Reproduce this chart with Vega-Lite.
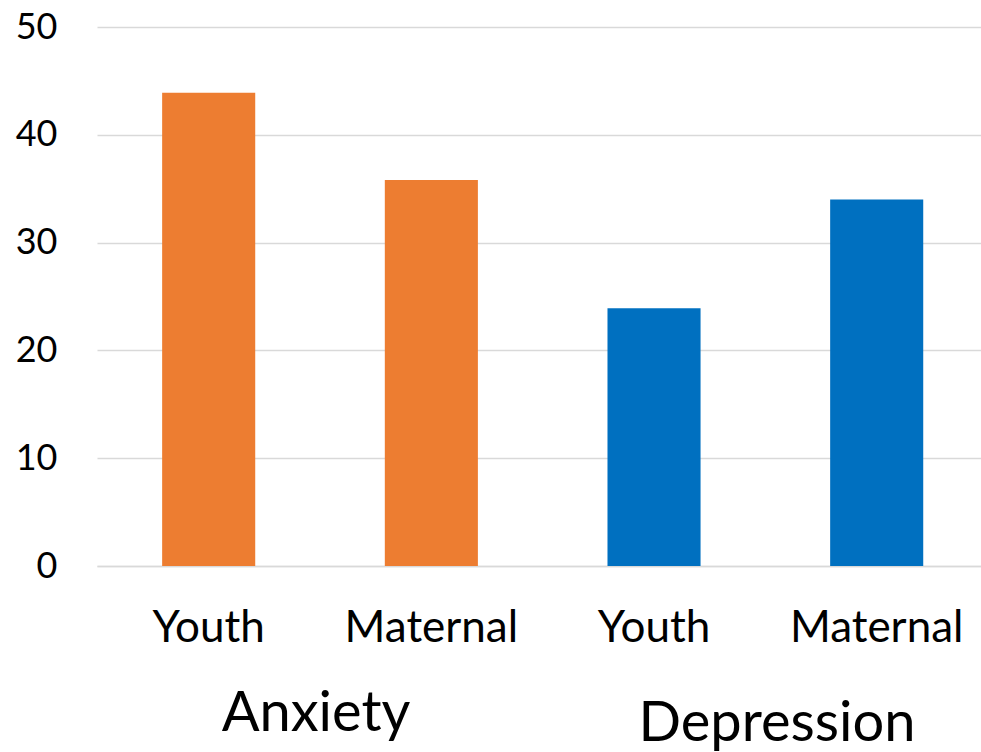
{
  "$schema": "https://vega.github.io/schema/vega-lite/v6.json",
  "width": 884,
  "height": 539,
  "autosize": "none",
  "padding": {"left": 97, "top": 27, "right": 0, "bottom": 186},
  "background": "white",
  "config": {"view": {"stroke": null}, "font": "Lato"},
  "data": {
    "values": [
      {"group": "Anxiety", "sub": "Youth", "key": "Anxiety-Youth", "value": 43.9},
      {"group": "Anxiety", "sub": "Maternal", "key": "Anxiety-Maternal", "value": 35.8},
      {"group": "Depression", "sub": "Youth", "key": "Depression-Youth", "value": 23.9},
      {"group": "Depression", "sub": "Maternal", "key": "Depression-Maternal", "value": 34.0}
    ]
  },
  "layer": [
    {
      "mark": {"type": "bar"},
      "encoding": {
        "x": {
          "field": "key", "type": "nominal", "sort": null,
          "scale": {"paddingInner": 0.582, "paddingOuter": 0.276, "align": 0.53},
          "axis": {"title": null, "labelExpr": "split(datum.label, '-')[1]", "labelAngle": 0, "labelFontSize": 44, "labelLimit": 0, "labelColor": "#000000", "ticks": false, "domainColor": "#d9d9d9", "domainWidth": 1.5, "labelPadding": 40}
        },
        "y": {
          "field": "value", "type": "quantitative",
          "scale": {"domain": [0, 50]},
          "axis": {"title": null, "values": [0, 10, 20, 30, 40, 50], "grid": true, "gridColor": "#d9d9d9", "gridWidth": 1.5, "domain": false, "ticks": false, "labelFontSize": 36, "labelColor": "#000000", "labelPadding": 40}
        },
        "color": {
          "field": "group", "type": "nominal",
          "scale": {"domain": ["Anxiety", "Depression"], "range": ["#ED7D31", "#0070C0"]},
          "legend": null
        }
      }
    },
    {
      "mark": {"type": "bar", "opacity": 0},
      "encoding": {
        "x": {
          "field": "group", "type": "nominal",
          "scale": {"domain": ["Anxiety", "Depression"], "paddingInner": 0, "paddingOuter": 0},
          "axis": {"orient": "bottom", "values": ["Anxiety"], "title": null, "labelAngle": 0, "labelFontSize": 56, "labelLimit": 0, "labelColor": "#000000", "domain": false, "ticks": false, "offset": 104, "labelPadding": 16, "labelOffset": -2}
        },
        "y": {"field": "value", "type": "quantitative"}
      }
    },
    {
      "mark": {"type": "bar", "opacity": 0},
      "encoding": {
        "x": {
          "field": "group", "type": "nominal",
          "scale": {"domain": ["Anxiety", "Depression"], "paddingInner": 0, "paddingOuter": 0},
          "axis": {"orient": "bottom", "values": ["Depression"], "title": null, "labelAngle": 0, "labelFontSize": 56, "labelLimit": 0, "labelColor": "#000000", "domain": false, "ticks": false, "offset": 114, "labelPadding": 16, "labelOffset": 17}
        },
        "y": {"field": "value", "type": "quantitative"}
      }
    }
  ],
  "resolve": {"scale": {"x": "independent"}}
}
